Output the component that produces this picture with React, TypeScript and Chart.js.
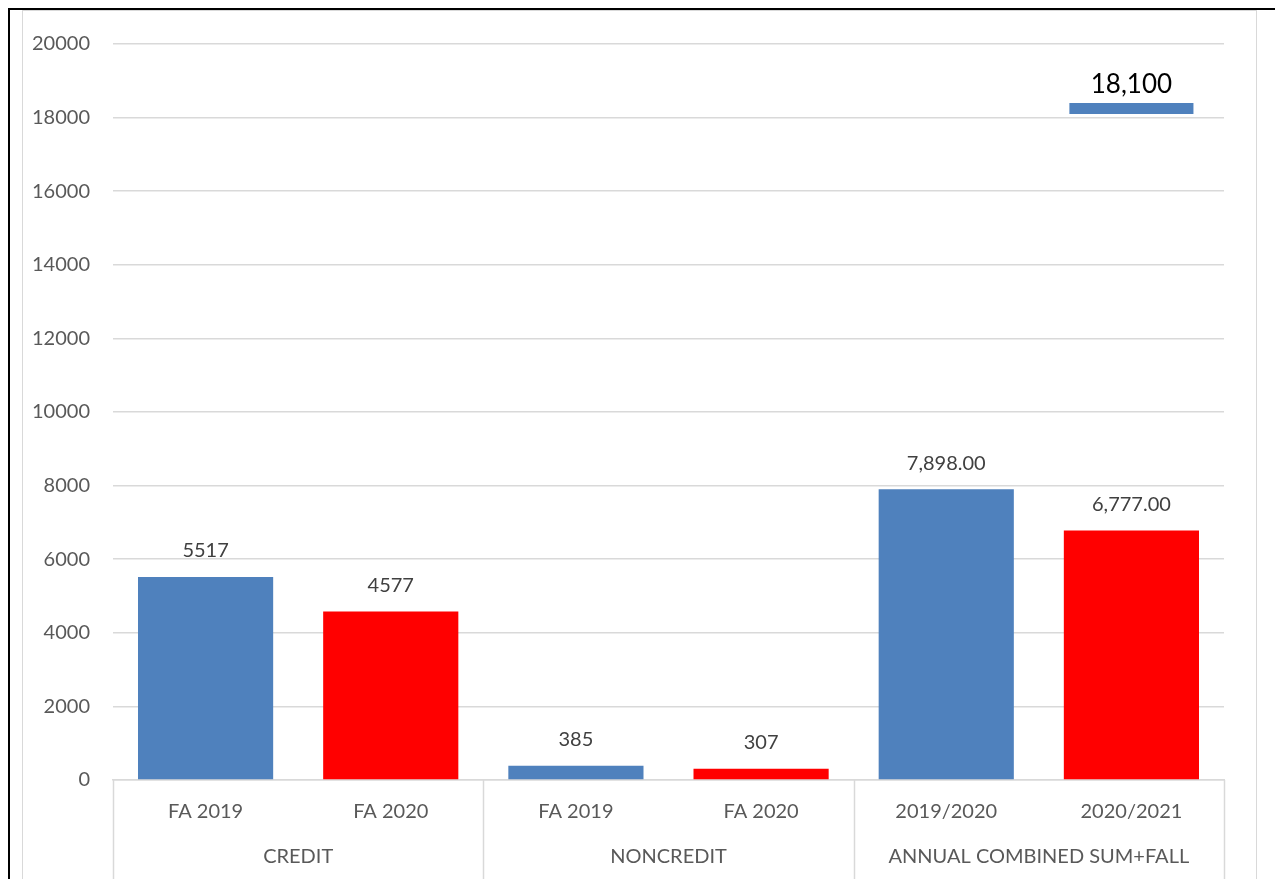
import React, { useEffect, useRef } from "react";
import { Chart, registerables } from "chart.js";

Chart.register(...registerables);

const categories = ["FA 2019", "FA 2020", "FA 2019", "FA 2020", "2019/2020", "2020/2021"];
const groups = ["CREDIT", "NONCREDIT", "ANNUAL COMBINED SUM+FALL"];
const groupSizes = [2, 2, 2];
const values = [5517, 4577, 385, 307, 7898, 6777];
const valueLabels = ["5517", "4577", "385", "307", "7,898.00", "6,777.00"];
const barColors = ["#4F81BD", "#FF0000", "#4F81BD", "#FF0000", "#4F81BD", "#FF0000"];
const floatingIndex = 5;
const floatingRange: [number, number] = [18100, 18400];
const floatingLabel = "18,100";
const yMin = 0;
const yMax = 20000;
const yStep = 2000;

const FONT = "Lato, 'Open Sans', sans-serif";

export default function App() {
  const ref = useRef<HTMLCanvasElement | null>(null);

  useEffect(() => {
    if (!ref.current) return;
    const floatingData = categories.map((_, i) => (i === floatingIndex ? floatingRange : null));

    const overlay = {
      id: "overlay",
      afterDatasetsDraw(chart: any) {
        const ctx = chart.ctx;
        const area = chart.chartArea;
        ctx.save();
        // value labels
        const meta0 = chart.getDatasetMeta(0);
        ctx.font = `20px ${FONT}`;
        ctx.fillStyle = "#404040";
        ctx.textAlign = "center";
        ctx.textBaseline = "middle";
        meta0.data.forEach((el: any, i: number) => {
          ctx.fillText(valueLabels[i], el.x, el.y - 26);
        });
        const meta1 = chart.getDatasetMeta(1);
        const fel: any = meta1.data[floatingIndex];
        ctx.font = `26px ${FONT}`;
        ctx.fillStyle = "#000000";
        ctx.fillText(floatingLabel, fel.x, fel.y - 18);

        // multi-level axis separators
        ctx.strokeStyle = "#D9D9D9";
        ctx.lineWidth = 1.5;
        const per = (area.right - area.left) / categories.length;
        let idx = 0;
        const bounds: number[] = [area.left];
        groupSizes.forEach((n) => {
          idx += n;
          bounds.push(area.left + per * idx);
        });
        bounds.forEach((bx) => {
          ctx.beginPath();
          ctx.moveTo(Math.round(bx) + 0.5, area.bottom);
          ctx.lineTo(Math.round(bx) + 0.5, chart.height);
          ctx.stroke();
        });
        ctx.font = `20px ${FONT}`;
        ctx.fillStyle = "#595959";
        groups.forEach((g, gi) => {
          ctx.fillText(g, (bounds[gi] + bounds[gi + 1]) / 2, 857);
        });
        ctx.restore();
      },
    };

    const chart = new Chart(ref.current, {
      type: "bar",
      data: {
        labels: categories,
        datasets: [
          {
            data: values,
            backgroundColor: barColors,
            barPercentage: 0.73,
            categoryPercentage: 1,
            grouped: false,
          } as any,
          {
            data: floatingData as any,
            backgroundColor: "#4F81BD",
            barPercentage: 0.67,
            categoryPercentage: 1,
            grouped: false,
          } as any,
        ],
      },
      options: {
        animation: false,
        responsive: false,
        maintainAspectRatio: false,
        layout: { padding: { top: 44, right: 51, bottom: 0, left: 0 } },
        plugins: { legend: { display: false }, tooltip: { enabled: false } },
        scales: {
          x: {
            grid: { display: false, drawTicks: false },
            border: { display: true, color: "#D9D9D9", width: 1.5 },
            ticks: {
              color: "#595959",
              font: { family: FONT, size: 20 },
              padding: 20,
              maxRotation: 0,
              autoSkip: false,
            },
            afterFit: (s: any) => {
              s.height = 99;
            },
          },
          y: {
            min: yMin,
            max: yMax,
            grid: { color: "#D9D9D9", lineWidth: 1.5, drawTicks: false },
            border: { display: false },
            ticks: {
              stepSize: yStep,
              color: "#595959",
              font: { family: FONT, size: 20 },
              padding: 23,
              callback: (v: any) => String(v),
            },
            afterFit: (s: any) => {
              s.width = 113;
            },
          },
        },
      },
      plugins: [overlay],
    });
    return () => chart.destroy();
  }, []);

  return (
    <div style={{ position: "fixed", left: 0, top: 0, width: 1275, height: 879, background: "#fff", overflow: "hidden" }}>
      <div
        style={{
          position: "absolute",
          left: 8,
          top: 8,
          width: 1400,
          height: 1000,
          borderLeft: "2px solid #000",
          borderTop: "2px solid #000",
        }}
      />
      <div
        style={{
          position: "absolute",
          left: 22,
          top: 10,
          width: 1233,
          height: 1000,
          border: "1.5px solid #D9D9D9",
        }}
      />
      <canvas ref={ref} width={1275} height={879} style={{ position: "absolute", left: 0, top: 0 }} />
    </div>
  );
}
